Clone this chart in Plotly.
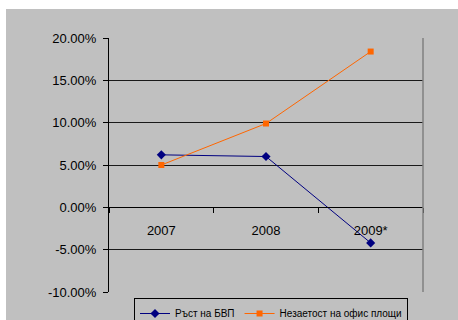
import plotly.graph_objects as go

# Data
years = ["2007", "2008", "2009*"]
gdp_growth = [6.2, 6.0, -4.2]          # Ръст на БВП, %
office_vacancy = [5.0, 9.9, 18.4]      # Незаетост на офис площи, %
y_ticks = [-10, -5, 0, 5, 10, 15, 20]
y_tick_text = [f"{v:.2f}%" for v in y_ticks]

W, H = 458, 320
L, R, T, B = 109, 35, 38, 28
pw, ph = W - L - R, H - T - B
ymin, ymax = -10, 20
gray = "#C0C0C0"

fig = go.Figure()
fig.add_trace(go.Scatter(
    x=years, y=gdp_growth, name="Ръст на БВП", mode="lines+markers",
    line=dict(color="#000080", width=1),
    marker=dict(symbol="diamond", size=7, color="#000080"),
))
fig.add_trace(go.Scatter(
    x=years, y=office_vacancy, name="Незаетост на офис площи", mode="lines+markers",
    line=dict(color="#FF6600", width=1),
    marker=dict(symbol="square", size=6, color="#FF6600"),
))

# Gray chart area (white strip at top and left)
fig.add_shape(type="rect", xref="paper", yref="paper", layer="below",
              x0=(6 - L) / pw, x1=(W - L) / pw + 0.01,
              y0=-(B + 2) / ph, y1=(H - 9 - B) / ph,
              line=dict(width=0), fillcolor=gray)
# Right border of the plot area
fig.add_shape(type="line", xref="paper", yref="paper",
              x0=1, x1=1, y0=0, y1=1, line=dict(color="#808080", width=1.5))

zero_pos = (0 - ymin) / (ymax - ymin)

fig.update_layout(
    width=W, height=H,
    margin=dict(l=L, r=R, t=T, b=B, autoexpand=False),
    paper_bgcolor="white", plot_bgcolor=gray,
    font=dict(family="Liberation Sans, Arial", color="black"),
    showlegend=True,
    legend=dict(orientation="h", x=(134 - L) / pw, y=(T + ph - 298) / ph,
                xanchor="left", yanchor="top",
                bgcolor=gray, bordercolor="black", borderwidth=1,
                font=dict(size=10), itemwidth=30, tracegroupgap=0),
    xaxis=dict(
        type="category", range=[-0.5, 2.5],
        anchor="free", position=zero_pos,
        showline=True, linecolor="black", linewidth=1,
        ticks="outside", ticklen=5, tickcolor="black", tickson="boundaries",
        showgrid=False, tickfont=dict(size=13), ticklabelstandoff=11,
    ),
    yaxis=dict(
        range=[ymin, ymax], tickvals=y_ticks, ticktext=y_tick_text,
        showline=True, linecolor="black", linewidth=1,
        ticks="outside", ticklen=5, tickcolor="black",
        showgrid=True, gridcolor="#1a1a1a", gridwidth=1,
        zeroline=False, tickfont=dict(size=13), ticklabelstandoff=4,
    ),
)

fig.write_html("out.html")
